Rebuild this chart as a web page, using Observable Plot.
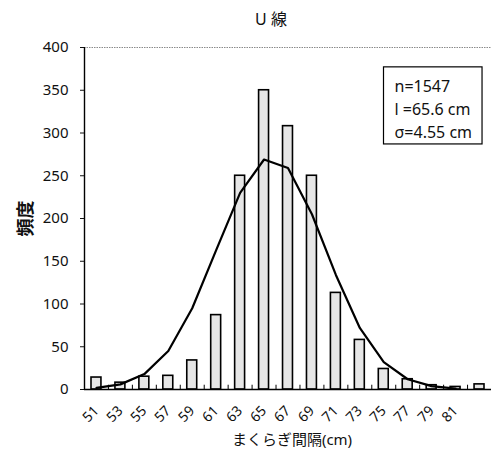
<!DOCTYPE html>
<html>
<head>
<meta charset="utf-8">
<script src="https://cdn.jsdelivr.net/npm/d3@7"></script>
<script src="https://cdn.jsdelivr.net/npm/@observablehq/plot@0.6"></script>
<style>
  html, body { margin: 0; padding: 0; background: #fff; }
</style>
</head>
<body>
<div id="chart"></div>
<script>
// Sleeper spacing histogram, line U
const classes = [51, 53, 55, 57, 59, 61, 63, 65, 67, 69, 71, 73, 75, 77, 79, 81, 83];
const counts  = [14, 8, 15, 16, 34, 87, 250, 350, 308, 250, 113, 58, 24, 12, 5, 3, 6];
// fitted normal curve, one value per class up to 81
const curveClasses = [51, 53, 55, 57, 59, 61, 63, 65, 67, 69, 71, 73, 75, 77, 79, 81];
const curveValues  = [2, 6, 18, 45, 95, 163, 230, 269, 259, 205, 134, 72, 32, 12, 4, 1];
const yTicks = [0, 50, 100, 150, 200, 250, 300, 350, 400];
const xTickLabels = [51, 53, 55, 57, 59, 61, 63, 65, 67, 69, 71, 73, 75, 77, 79, 81];
const title = "U 線";
const xLabel = "まくらぎ間隔(cm)";
const yLabel = "頻度";
const stats = ["n=1547", "l =65.6 cm", "σ=4.55 cm"];

const W = 491, H = 450;
const mL = 84, mR = 0, mT = 47, mB = 61;
const step = (W - mL - mR) / classes.length;
const barInset = 7;

const bars = classes.map((c, i) => ({c, n: counts[i]}));
const curve = curveClasses.map((c, i) => ({c, v: curveValues[i]}));

const font = "'Noto Sans', 'Noto Sans CJK JP', sans-serif";

const chart = Plot.plot({
  width: W,
  height: H,
  marginLeft: mL,
  marginRight: mR,
  marginTop: mT,
  marginBottom: mB,
  style: {fontFamily: font, background: "#fff", color: "#111"},
  x: {type: "band", domain: classes, padding: 0, round: false},
  y: {domain: [0, 400]},
  marks: [
    // dotted top edge of the plot area
    Plot.ruleY([400], {stroke: "#8a8a8a", strokeWidth: 1, strokeDasharray: "1.5,1"}),
    Plot.barY(bars, {x: "c", y: "n", insetLeft: barInset, insetRight: barInset, fill: "#e6e6e6", stroke: "#000", strokeWidth: 1.6}),
    Plot.line(curve, {x: "c", y: "v", stroke: "#000", strokeWidth: 2.2}),
    // axis lines
    Plot.ruleY([0], {stroke: "#000", strokeWidth: 1.4}),
    Plot.ruleX([classes[0]], {y1: 0, y2: 400, dx: -step / 2, stroke: "#000", strokeWidth: 1.4}),
    // category boundary ticks pointing into the plot
    Plot.ruleX(classes, {y1: 0, y2: 5, dx: step / 2, stroke: "#000", strokeWidth: 1}),
    Plot.axisY({ticks: yTicks, tickSize: 4, tickPadding: 12, fontSize: 15, label: null}),
    Plot.axisX({ticks: xTickLabels, tickSize: 0, tickPadding: 19, tickRotate: -45, fontSize: 14, label: null}),
    Plot.text([title], {frameAnchor: "top", dx: -17, dy: -28, lineAnchor: "middle", textAnchor: "middle", fontSize: 16}),
    Plot.text([xLabel], {frameAnchor: "bottom", dx: 4, dy: 51, lineAnchor: "middle", textAnchor: "middle", fontSize: 15}),
    Plot.text([yLabel], {frameAnchor: "left", dx: -58, rotate: -90, lineAnchor: "middle", textAnchor: "middle", fontSize: 18, fontWeight: "bold"}),
    Plot.text([stats.join("\n")], {frameAnchor: "top-right", dx: -97, dy: 28, textAnchor: "start", lineAnchor: "top", lineHeight: 1.44, fontSize: 16, className: "stats"})
  ]
});

document.getElementById("chart").appendChild(chart);

// box around the statistics text, in the text's own coordinate system
const statsText = chart.querySelector(".stats text");
if (statsText) {
  const bb = statsText.getBBox();
  const ns = "http://www.w3.org/2000/svg";
  const rect = document.createElementNS(ns, "rect");
  rect.setAttribute("x", bb.x - 11);
  rect.setAttribute("y", bb.y - 8);
  rect.setAttribute("width", bb.width + 21);
  rect.setAttribute("height", bb.height + 9);
  rect.setAttribute("fill", "#fff");
  rect.setAttribute("stroke", "#000");
  rect.setAttribute("stroke-width", 1.2);
  const t = statsText.getAttribute("transform");
  if (t) rect.setAttribute("transform", t);
  statsText.parentNode.insertBefore(rect, statsText);
}
</script>
</body>
</html>
